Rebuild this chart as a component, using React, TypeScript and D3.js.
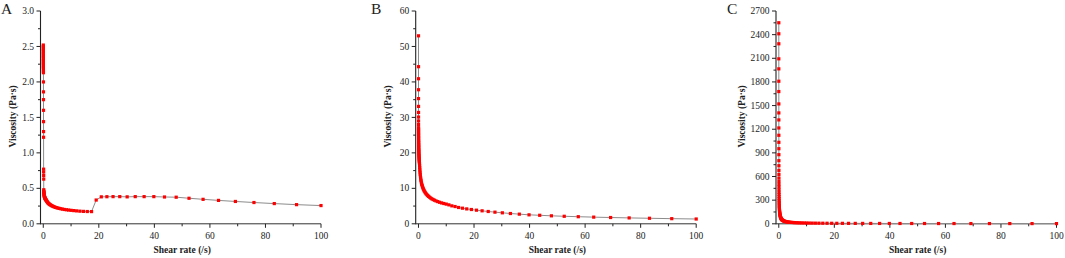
import React from 'react';
import * as d3 from 'd3';

const shearRate = [
  0.01, 0.01096, 0.01202, 0.01318, 0.01445, 0.01585, 0.01738, 0.01905, 0.02089, 0.02291,
  0.02512, 0.02754, 0.0302, 0.03311, 0.03631, 0.03981, 0.04365, 0.04786, 0.05248, 0.05754,
  0.0631, 0.06918, 0.07586, 0.08318, 0.0912, 0.1, 0.1096, 0.1202, 0.1318, 0.1445,
  0.1585, 0.1738, 0.1905, 0.2089, 0.2291, 0.2512, 0.2754, 0.302, 0.3311, 0.3631,
  0.3981, 0.4365, 0.4786, 0.5248, 0.5754, 0.631, 0.6918, 0.7586, 0.8318, 0.912,
  1, 1.096, 1.202, 1.318, 1.445, 1.585, 1.738, 1.905, 2.089, 2.291,
  2.512, 2.754, 3.02, 3.311, 3.631, 3.981, 4.365, 4.786, 5.248, 5.754,
  6.31, 6.918, 7.586, 8.318, 9.12, 10, 10.96, 12.02, 13.18, 14.45,
  15.85, 17.38, 19.05, 20.89, 22.91, 25.12, 27.54, 30.2, 33.11, 36.31,
  39.81, 43.65, 47.86, 52.48, 57.54, 63.1, 69.18, 75.86, 83.18, 91.2, 100,
];

const viscosityA = [
  2.52, 2.50, 2.48, 2.46, 2.44, 2.42, 2.40, 2.38, 2.36, 2.34,
  2.32, 2.30, 2.28, 2.26, 2.24, 2.22, 2.20, 2.18, 2.15, 2.13,
  2.0, 1.86, 1.75, 1.6, 1.44, 1.3, 1.22, 0.77, 0.73, 0.68,
  0.63, 0.48, 0.46, 0.45, 0.44, 0.43, 0.42, 0.41, 0.40, 0.39,
  0.385, 0.38, 0.375, 0.37, 0.365, 0.36, 0.355, 0.35, 0.345, 0.34,
  0.335, 0.33, 0.322, 0.315, 0.308, 0.30, 0.293, 0.286, 0.28, 0.274,
  0.268, 0.262, 0.256, 0.25, 0.244, 0.238, 0.232, 0.227, 0.222, 0.217,
  0.212, 0.207, 0.202, 0.198, 0.194, 0.19, 0.186, 0.182, 0.178, 0.175,
  0.173, 0.172, 0.335, 0.38, 0.382, 0.383, 0.383, 0.38, 0.383, 0.383,
  0.383, 0.378, 0.375, 0.36, 0.345, 0.33, 0.315, 0.30, 0.285, 0.27, 0.257,
];

const viscosityB = [
  53, 44.3, 40.9, 37.8, 35.3, 33.1, 31.4, 30.1, 29, 28,
  27.1, 26.7, 26.3, 25.9, 25.5, 25.1, 24.7, 24.3, 23.9, 23.5,
  23.1, 22.8, 22.4, 22.1, 21.7, 21.4, 21.0, 20.7, 20.4, 20.0,
  19.7, 19.4, 19.1, 18.8, 18.5, 18.2, 17.9, 17.6, 17.3, 17.0,
  16.45, 15.9, 15.4, 14.9, 14.4, 13.95, 13.5, 13.05, 12.6, 12.2,
  11.8, 11.45, 11.1, 10.78, 10.45, 10.15, 9.85, 9.55, 9.27, 9.0,
  8.72, 8.46, 8.21, 7.97, 7.73, 7.5, 7.28, 7.06, 6.85, 6.65,
  6.45, 6.26, 6.07, 5.89, 5.72, 5.55, 5.34, 5.06, 4.87, 4.6,
  4.4, 4.2, 4.03, 3.84, 3.66, 3.47, 3.28, 3.1, 2.9, 2.72,
  2.53, 2.4, 2.25, 2.12, 2.0, 1.88, 1.77, 1.66, 1.56, 1.45, 1.35,
];

const viscosityC = [
  2551, 2411, 2284, 2093, 1966, 1809, 1678, 1521, 1407, 1318,
  1216, 1123, 1034, 953, 877, 801, 737, 678, 627, 580,
  538, 500, 466, 432, 400, 372, 345, 320, 297, 276,
  256, 238, 221, 205, 190, 176, 164, 152, 141, 131,
  122, 113, 105, 98, 91, 84, 78, 72, 67, 62,
  58, 54, 50, 46.5, 43, 40, 37, 34.5, 32, 30,
  28, 26, 24, 22.5, 21, 19.5, 18, 17, 16, 15,
  14, 13, 12, 11.3, 10.6, 10, 9.4, 8.8, 8.3, 7.8,
  7.3, 6.9, 6.5, 6.1, 5.8, 5.5, 5.2, 4.9, 4.6, 4.4,
  4.2, 4.0, 3.8, 3.6, 3.4, 3.2, 3.0, 2.9, 2.8, 2.7, 2.6,
];

const xTicks = [0, 20, 40, 60, 80, 100];
const xMinorTicks = [10, 30, 50, 70, 90];
const xTitle = 'Shear rate (/s)';
const yTitle = 'Viscosity (Pa·s)';

const panelLabels = ['A', 'B', 'C'];
const yMaxes = [3, 60, 2700];
const ySteps = [0.5, 10, 300];

const layout = [
  { axisX: 40.5, yTitleX: 13, letterX: 1 },
  { axisX: 415.7, yTitleX: 388, letterX: 371 },
  { axisX: 776, yTitleX: 742, letterX: 727 },
];

const series = [viscosityA, viscosityB, viscosityC];
const serif = '"Liberation Serif", "Times New Roman", serif';

function Panel({ idx }: { idx: number }) {
  const { axisX, yTitleX, letterX } = layout[idx];
  const yMax = yMaxes[idx];
  const step = ySteps[idx];
  const values = series[idx];
  const x = d3.scaleLinear().domain([-1, 100]).range([axisX, axisX + 280.5]);
  const y = d3.scaleLinear().domain([0, yMax]).range([223.8, 11]);
  const fmt = idx === 0 ? d3.format('.1f') : d3.format('d');
  const yTicks = d3.range(0, yMax + step / 2, step);
  const yMinor = d3.range(step / 2, yMax, step);
  const data = shearRate.map((s, i) => [s, values[i]] as [number, number]);
  const line = d3
    .line<[number, number]>()
    .x((d) => x(d[0]))
    .y((d) => y(d[1]));
  const y0 = y(0);
  const xEnd = x(100);
  return (
    <g>
      <text x={letterX} y={14} fontFamily={serif} fontSize={15.5} fill="#222">
        {panelLabels[idx]}
      </text>
      {/* axes */}
      <line x1={axisX} x2={axisX} y1={y0 + 0.5} y2={y(yMax)} stroke="#222" strokeWidth={1.1} />
      <line x1={axisX} x2={xEnd} y1={y0} y2={y0} stroke="#333" strokeWidth={1} />
      {yTicks.map((t) => (
        <g key={'yt' + t}>
          <line x1={axisX - 4} x2={axisX} y1={y(t)} y2={y(t)} stroke="#222" strokeWidth={1} />
          <text
            x={axisX - 6.5}
            y={y(t)}
            dy="0.33em"
            textAnchor="end"
            fontFamily={serif}
            fontSize={9.5}
            fill="#222"
          >
            {fmt(t)}
          </text>
        </g>
      ))}
      {yMinor.map((t) => (
        <line key={'ym' + t} x1={axisX - 2.5} x2={axisX} y1={y(t)} y2={y(t)} stroke="#222" strokeWidth={1} />
      ))}
      {xTicks.map((t) => (
        <g key={'xt' + t}>
          <line x1={x(t)} x2={x(t)} y1={y0} y2={y0 + 4} stroke="#222" strokeWidth={1} />
          <text x={x(t)} y={238.5} textAnchor="middle" fontFamily={serif} fontSize={9.5} fill="#222">
            {t}
          </text>
        </g>
      ))}
      {xMinorTicks.map((t) => (
        <line key={'xm' + t} x1={x(t)} x2={x(t)} y1={y0} y2={y0 + 2.5} stroke="#222" strokeWidth={1} />
      ))}
      <text
        x={(x(0) + xEnd) / 2}
        y={253}
        textAnchor="middle"
        fontFamily={serif}
        fontWeight="bold"
        fontSize={9.5}
        fill="#222"
      >
        {xTitle}
      </text>
      <text
        transform={`translate(${yTitleX},${y(yMax / 2) - 1}) rotate(-90)`}
        dy="0.35em"
        textAnchor="middle"
        fontFamily={serif}
        fontWeight="bold"
        fontSize={9.5}
        fill="#222"
      >
        {yTitle}
      </text>
      {/* data */}
      <path d={line(data) || ''} fill="none" stroke="#8c8c8c" strokeWidth={1} />
      {data.map((d, i) => (
        <rect key={i} x={x(d[0]) - 1.6} y={y(d[1]) - 1.6} width={3.2} height={3.2} fill="#ff0000" />
      ))}
    </g>
  );
}

export default function App() {
  return (
    <svg
      width={1065}
      height={258}
      style={{ position: 'absolute', left: 0, top: 0, background: '#fff' }}
    >
      <rect width={1065} height={258} fill="#fff" />
      {panelLabels.map((_, i) => (
        <Panel key={i} idx={i} />
      ))}
    </svg>
  );
}
